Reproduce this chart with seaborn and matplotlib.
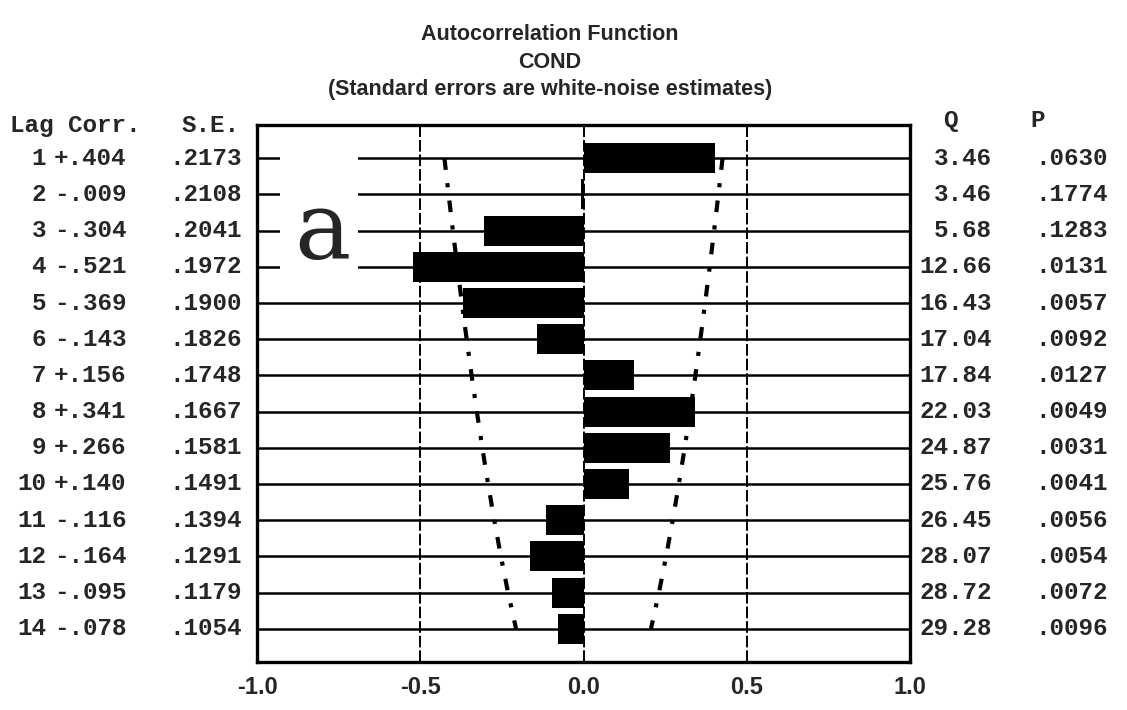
import numpy as np
import matplotlib
matplotlib.use("Agg")
import matplotlib.pyplot as plt
import matplotlib.transforms as mtransforms
from matplotlib.patches import Rectangle
import seaborn as sns

# valores (ACF da serie COND)
lags = [1, 2, 3, 4, 5, 6, 7, 8, 9, 10, 11, 12, 13, 14]
corr = [0.404, -0.009, -0.304, -0.521, -0.369, -0.143, 0.156,
        0.341, 0.266, 0.140, -0.116, -0.164, -0.095, -0.078]
std_err = [0.2173, 0.2108, 0.2041, 0.1972, 0.1900, 0.1826, 0.1748,
           0.1667, 0.1581, 0.1491, 0.1394, 0.1291, 0.1179, 0.1054]
box_q = [3.46, 3.46, 5.68, 12.66, 16.43, 17.04, 17.84,
         22.03, 24.87, 25.76, 26.45, 28.07, 28.72, 29.28]
p_vals = [0.0630, 0.1774, 0.1283, 0.0131, 0.0057, 0.0092, 0.0127,
          0.0049, 0.0031, 0.0041, 0.0056, 0.0054, 0.0072, 0.0096]
x_ticks = [-1.0, -0.5, 0.0, 0.5, 1.0]
x_tick_labels = ["-1.0", "-0.5", "0.0", "0.5", "1.0"]
ref_lines = [-0.5, 0.0, 0.5]

W, H = 1127, 710
MONO = "Liberation Mono"
SANS = "Liberation Sans"

sns.set_theme(style="white")

fig = plt.figure(figsize=(W / 100, H / 100), dpi=100)
ax = fig.add_axes([257 / W, 1 - 662 / H, 653 / W, (662 - 125) / H])

# linhas horizontais por lag e linhas de referencia verticais
ax.hlines(lags, -1, 1, color="black", lw=1.8, zorder=1)
for xr in ref_lines:
    ax.axvline(xr, color="black", lw=1.4, ls=(0, (6, 1.5)), zorder=1)

# barras
sns.barplot(x=corr, y=lags, orient="h", native_scale=True, color="black",
            saturation=1, width=0.83, linewidth=0, ax=ax, zorder=3)

# limites +-1.96 SE (traco-ponto)
bound = 1.96 * np.array(std_err)
for sign in (-1, 1):
    ax.plot(sign * bound, lags, color="black", lw=3.0,
            ls=(0, (2.8, 3.2, 1.0, 3.2)), zorder=4)

# caixa branca do "a" (colada sobre o grafico)
ax.add_patch(Rectangle((-0.93, 0.6), 0.24, 4.0, facecolor="white",
                       edgecolor="none", zorder=5))
ax.text(-0.80, 3.77, "a", family="DejaVu Serif", fontsize=68,
        ha="center", va="baseline", zorder=6)

ax.set_xlim(-1, 1)
ax.set_ylim(14.92, 0.08)
ax.set_yticks([])
ax.set_ylabel("")
ax.set_xlabel("")
ax.set_xticks(x_ticks)
ax.set_xticklabels(x_tick_labels, family=SANS, fontweight="bold", fontsize=17)
ax.tick_params(axis="x", length=0, pad=10)
for sp in ax.spines.values():
    sp.set_visible(True)
    sp.set_color("black")
    sp.set_linewidth(2.4)
    sp.set_zorder(7)

# tabelas laterais (x em fracao da figura, y em lag)
tr = mtransforms.blended_transform_factory(fig.transFigure, ax.transData)
tkw = dict(family=MONO, fontweight="bold", fontsize=17.5, va="center", transform=tr)


def fmt_corr(c):
    s = f"{c:+.3f}"
    return s[0] + s[2:]


ax.text(10 / W, 0.08, "Lag Corr.", ha="left", **tkw)
ax.text(182 / W, 0.08, "S.E.", ha="left", **tkw)
ax.text(943 / W, -0.05, "Q", ha="left", **tkw)
ax.text(1030 / W, -0.05, "P", ha="left", **tkw)
for lag, c, se, q, p in zip(lags, corr, std_err, box_q, p_vals):
    ax.text(46 / W, lag, f"{lag}", ha="right", **tkw)
    ax.text(54 / W, lag, fmt_corr(c), ha="left", **tkw)
    ax.text(242 / W, lag, f"{se:.4f}"[1:], ha="right", **tkw)
    ax.text(992 / W, lag, f"{q:.2f}", ha="right", **tkw)
    ax.text(1108 / W, lag, f"{p:.4f}"[1:], ha="right", **tkw)

# titulo
fig.text(550 / W, 1 - 34 / H, "Autocorrelation Function", family=SANS,
         fontweight="bold", fontsize=15.5, ha="center", va="center")
fig.text(550 / W, 1 - 62 / H, "COND", family=SANS,
         fontweight="bold", fontsize=15.5, ha="center", va="center")
fig.text(550 / W, 1 - 90 / H, "(Standard errors are white-noise estimates)",
         family=SANS, fontweight="bold", fontsize=15.5, ha="center", va="center")

fig.savefig("out.png", dpi=100)
